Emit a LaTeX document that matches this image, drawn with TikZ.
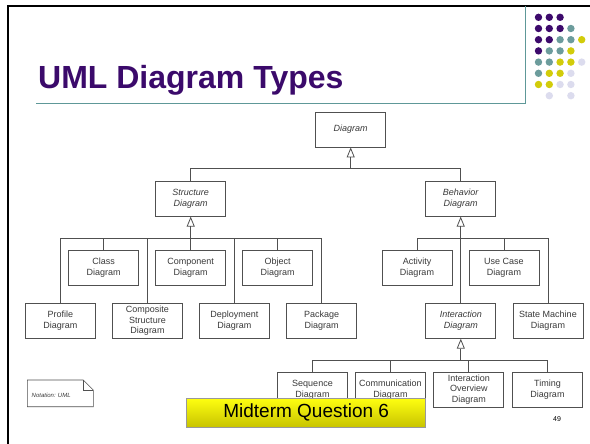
\documentclass[tikz,border=0pt]{standalone}
\usepackage{fontspec}
\setmainfont{Liberation Sans}
\usetikzlibrary{arrows.meta}
\definecolor{ttl}{HTML}{3B0A6B}
\definecolor{dP}{HTML}{3D0A6C}
\definecolor{dT}{HTML}{6C9C9C}
\definecolor{dY}{HTML}{D2CC0A}
\definecolor{dL}{HTML}{DCDCEE}
\definecolor{rule}{HTML}{5E9898}
\definecolor{boxline}{HTML}{505050}
\definecolor{boxtext}{HTML}{3A3A3A}
\definecolor{ylTop}{HTML}{FFFF10}
\definecolor{ylBot}{HTML}{C8C400}
\begin{document}
\begin{tikzpicture}[x=1pt,y=-1pt,
  umlbox/.style={draw=boxline, line width=0.8pt, fill=white, minimum width=70pt, minimum height=35pt,
    inner sep=0pt, align=center, text=boxtext, font=\fontsize{9}{10.8}\selectfont},
  abstr/.style={font=\itshape\fontsize{9}{10.8}\selectfont},
  link/.style={draw=boxline, line width=0.8pt},
  gen/.style={-{Triangle[open,length=10pt,width=8pt,line width=0.8pt]}},
  dot/.style={radius=3.7pt}
]
\useasboundingbox (0,0) rectangle (590,444);
\fill[white] (0,0) rectangle (590,444);

% slide frame
\draw[line width=2.6pt, black] (8,444) -- (8,6) -- (590,6);
\draw[rule, line width=1pt] (36,104) -- (525,104) -- (525,6);

% title
\node[anchor=base west, inner sep=0pt, text=ttl, font=\bfseries\fontsize{32}{34}\selectfont] (title) at (38,89) {UML Diagram Types};

% dots
\foreach \c/\r/\col in {0/0/dP,1/0/dP,2/0/dP,
  0/1/dP,1/1/dP,2/1/dP,3/1/dT,
  0/2/dP,1/2/dP,2/2/dT,3/2/dT,4/2/dY,
  0/3/dP,1/3/dT,2/3/dT,3/3/dY,
  0/4/dT,1/4/dT,2/4/dY,3/4/dY,4/4/dL,
  0/5/dT,1/5/dY,2/5/dY,3/5/dL,
  0/6/dY,1/6/dY,2/6/dL,3/6/dL,
  1/7/dL,3/7/dL}
  \fill[\col] (538.5+10.8*\c, 17.3+11.2*\r) circle[dot];

% nodes
\node[umlbox,abstr] (diag) at (350.7,129.5) {Diagram};
\node[umlbox,abstr] (struct) at (190.7,198.7) {Structure\\Diagram};
\node[umlbox,abstr] (behav) at (460.7,198.7) {Behavior\\Diagram};

\node[umlbox] (class) at (103.7,268) {Class\\Diagram};
\node[umlbox] (component) at (190.7,268) {Component\\Diagram};
\node[umlbox] (object) at (277.7,268) {Object\\Diagram};
\node[umlbox] (activity) at (417,268) {Activity\\Diagram};
\node[umlbox] (usecase) at (504,268) {Use Case\\Diagram};

\node[umlbox] (profile) at (60.3,320.8) {Profile\\Diagram};
\node[umlbox] (composite) at (147.5,320.8) {Composite\\Structure\\Diagram};
\node[umlbox] (deployment) at (234.3,320.8) {Deployment\\Diagram};
\node[umlbox] (package) at (321.7,320.8) {Package\\Diagram};
\node[umlbox,abstr] (interaction) at (460.8,320.8) {Interaction\\Diagram};
\node[umlbox] (statemachine) at (548,320.8) {State Machine\\Diagram};

\node[umlbox] (sequence) at (312.5,389.5) {Sequence\\Diagram};
\node[umlbox] (communication) at (390.5,389.5) {Communication\\Diagram};
\node[umlbox] (overview) at (468.8,389.5) {Interaction\\Overview\\Diagram};
\node[umlbox] (timing) at (547.5,389.5) {Timing\\Diagram};

% junctions
\coordinate (jD) at (350.7,168);
\coordinate (jS) at (190.7,238);
\coordinate (jB) at (460.7,238);
\coordinate (jI) at (460.8,360.7);

% generalisations
\draw[link,gen] (jD) -- (diag.south);
\draw[link] (struct.north) |- (jD);
\draw[link] (behav.north) |- (jD);

\draw[link,gen] (jS) -- (struct.south);
\foreach \n in {profile,class,composite,component,deployment,object,package}
  \draw[link] (\n.north) |- (jS);

\draw[link,gen] (jB) -- (behav.south);
\foreach \n in {activity,interaction,usecase,statemachine}
  \draw[link] (\n.north) |- (jB);

\draw[link,gen] (jI) -- (interaction.south);
\foreach \n in {sequence,communication,overview,timing}
  \draw[link] (\n.north) |- (jI);

% note
\draw[boxline, line width=0.6pt] (27.3,380) -- (83.3,380) -- (93.3,390) -- (93.3,406.7) -- (27.3,406.7) -- cycle;
\draw[boxline, line width=0.6pt] (83.3,380) -- (83.3,390) -- (93.3,390);
\node[anchor=west, inner sep=0pt, text=boxtext, font=\itshape\fontsize{6}{6}\selectfont] (note) at (31.5,395) {Notation: UML};

% midterm banner
\node[draw=gray!80, line width=0.5pt, top color=ylTop, bottom color=ylBot, minimum width=239pt, minimum height=29pt,
  inner sep=0pt, font=\fontsize{19}{19}\selectfont] (mid) at (306.2,412.5) {Midterm Question 6};

% page number
\node[inner sep=0pt, font=\fontsize{7}{7}\selectfont] (page) at (557,419) {49};
\end{tikzpicture}
\end{document}
